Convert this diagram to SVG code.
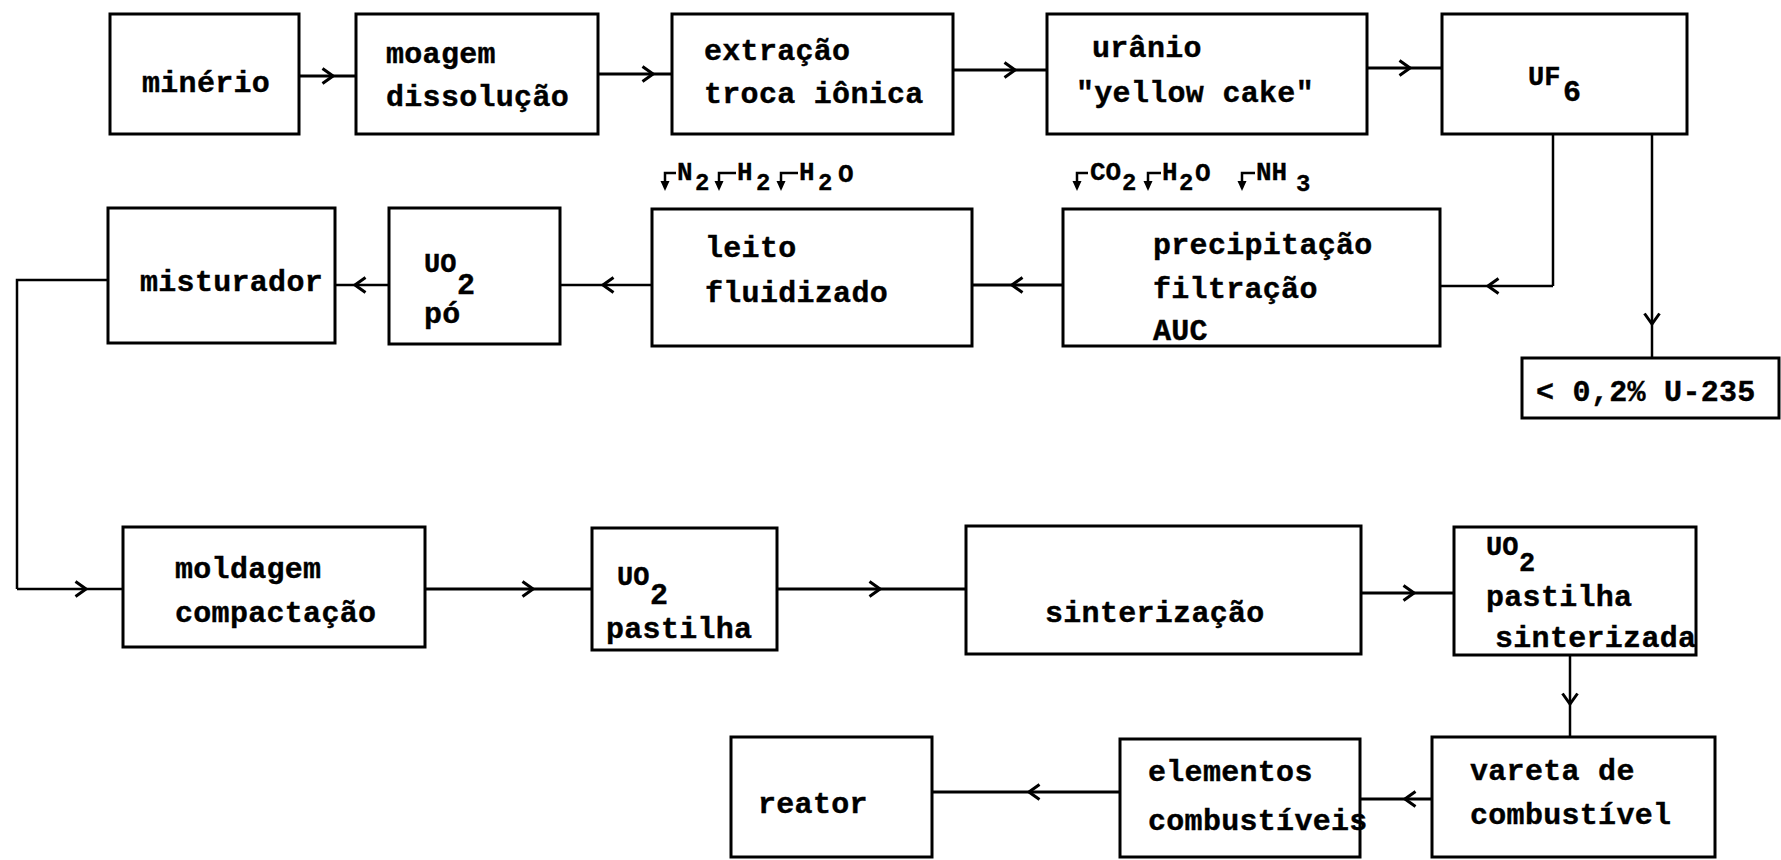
<svg xmlns="http://www.w3.org/2000/svg" width="1781" height="860" viewBox="0 0 1781 860">
<style>
.box{fill:none;stroke:#000;stroke-width:3}
.c{fill:none;stroke:#000;stroke-width:3.2}
.ct{fill:none;stroke:#000;stroke-width:2.5}
.m{marker-mid:url(#chev)}
.t{font-family:"Liberation Mono","DejaVu Sans Mono",monospace;font-weight:bold;font-size:30px;letter-spacing:0.3px;fill:#000;stroke:#000;stroke-width:0.4}
.s{font-family:"Liberation Mono","DejaVu Sans Mono",monospace;font-weight:bold;font-size:27px;fill:#000;stroke:#000;stroke-width:0.4}
.sb{font-family:"Liberation Mono","DejaVu Sans Mono",monospace;font-weight:bold;font-size:30px;fill:#000;stroke:#000;stroke-width:0.4}
.sc{font-family:"Liberation Mono","DejaVu Sans Mono",monospace;font-weight:bold;font-size:27px;fill:#000;stroke:#000;stroke-width:0.4}
.g{font-family:"Liberation Mono","DejaVu Sans Mono",monospace;font-weight:bold;font-size:24px;fill:#000;stroke:#000;stroke-width:0.3}
.gl{font-family:"Liberation Mono","DejaVu Sans Mono",monospace;font-weight:bold;font-size:26px;fill:#000;stroke:#000;stroke-width:0.3}
.ga{fill:none;stroke:#000;stroke-width:2.5}
.gh{fill:#000;stroke:none}
</style>
<defs>
<marker id="chev" viewBox="0 0 14 18" refX="12" refY="9" markerWidth="14" markerHeight="18" markerUnits="userSpaceOnUse" orient="auto">
<path d="M1.5,1.5 L12,9 L1.5,16.5" fill="none" stroke="#000" stroke-width="3"/>
</marker>
</defs>
<rect width="1781" height="860" fill="#fff"/>

<g id="connectors">
<path class="c m" d="M299 76 L333 76 L356 76"/>
<path class="c m" d="M598 74 L653 74 L672 74"/>
<path class="c m" d="M953 70 L1015 70 L1047 70"/>
<path class="c m" d="M1367 68 L1410 68 L1442 68"/>
<path class="ct" d="M1553 134 V286"/>
<path class="ct m" d="M1553 286 L1488 286 L1440 286"/>
<path class="ct m" d="M1652 134 L1652 324 L1652 358"/>
<path class="c m" d="M1063 285 L1012 285 L972 285"/>
<path class="ct m" d="M652 285 L603 285 L560 285"/>
<path class="ct m" d="M389 285 L355 285 L335 285"/>
<path class="ct" d="M108 280 H17 V589"/>
<path class="ct m" d="M17 589 L86 589 L123 589"/>
<path class="c m" d="M425 589 L533 589 L592 589"/>
<path class="c m" d="M777 589 L880 589 L966 589"/>
<path class="c m" d="M1361 593 L1414 593 L1454 593"/>
<path class="ct m" d="M1570 655 L1570 704 L1570 737"/>
<path class="c m" d="M1432 799 L1405 799 L1360 799"/>
<path class="c m" d="M1120 792 L1029 792 L932 792"/>
</g>

<g id="minerio"><rect class="box" x="110" y="14" width="189" height="120"/><text class="t" x="142" y="92">minério</text></g>
<g id="moagem"><rect class="box" x="356" y="14" width="242" height="120"/><text class="t" x="386" y="63">moagem</text><text class="t" x="386" y="106">dissolução</text></g>
<g id="extracao"><rect class="box" x="672" y="14" width="281" height="120"/><text class="t" x="704" y="60">extração</text><text class="t" x="704" y="103">troca iônica</text></g>
<g id="uranio"><rect class="box" x="1047" y="14" width="320" height="120"/><text class="t" x="1092" y="57">urânio</text><text class="t" x="1076" y="102">"yellow cake"</text></g>
<g id="uf6"><rect class="box" x="1442" y="14" width="245" height="120"/><text class="s" x="1528" y="85">UF</text><text class="sb" x="1563" y="101">6</text></g>

<g id="precipitacao"><rect class="box" x="1063" y="209" width="377" height="137"/><text class="t" x="1153" y="254">precipitação</text><text class="t" x="1153" y="298">filtração</text><text class="t" x="1153" y="340">AUC</text></g>
<g id="gases-precipitacao">
<path class="ga" d="M1088 173 H1077 V184"/><path class="gh" d="M1072.5 181 L1081.5 181 L1077 191 Z"/>
<text class="gl" x="1090" y="180">CO</text><text class="g" x="1122" y="190">2</text>
<path class="ga" d="M1161 173 H1148 V184"/><path class="gh" d="M1143.5 181 L1152.5 181 L1148 191 Z"/>
<text class="gl" x="1162" y="180">H</text><text class="g" x="1179" y="190">2</text><text class="gl" x="1195" y="181">O</text>
<path class="ga" d="M1255 173 H1242 V184"/><path class="gh" d="M1237.5 181 L1246.5 181 L1242 191 Z"/>
<text class="gl" x="1256" y="180">NH</text><text class="g" x="1296" y="191">3</text>
</g>
<g id="leito"><rect class="box" x="652" y="209" width="320" height="137"/><text class="t" x="705" y="257">leito</text><text class="t" x="705" y="302">fluidizado</text></g>
<g id="gases-leito">
<path class="ga" d="M676 173 H665 V184"/><path class="gh" d="M660.5 181 L669.5 181 L665 191 Z"/>
<text class="gl" x="677" y="180">N</text><text class="g" x="695" y="190">2</text>
<path class="ga" d="M736 173 H719 V184"/><path class="gh" d="M714.5 181 L723.5 181 L719 191 Z"/>
<text class="gl" x="737" y="180">H</text><text class="g" x="756" y="190">2</text>
<path class="ga" d="M798 173 H781 V184"/><path class="gh" d="M776.5 181 L785.5 181 L781 191 Z"/>
<text class="gl" x="799" y="180">H</text><text class="g" x="818" y="190">2</text><text class="gl" x="838" y="182">O</text>
</g>
<g id="uo2-po"><rect class="box" x="389" y="208" width="171" height="136"/><text class="s" x="424" y="272">UO</text><text class="sb" x="457" y="294">2</text><text class="t" x="424" y="323">pó</text></g>
<g id="misturador"><rect class="box" x="108" y="208" width="227" height="135"/><text class="t" x="140" y="291">misturador</text></g>
<g id="u235"><rect class="box" x="1522" y="358" width="257" height="60"/><text class="t" x="1536" y="401">&lt; 0,2% U-235</text></g>

<g id="moldagem"><rect class="box" x="123" y="527" width="302" height="120"/><text class="t" x="175" y="578">moldagem</text><text class="t" x="175" y="622">compactação</text></g>
<g id="uo2-pastilha"><rect class="box" x="592" y="528" width="185" height="122"/><text class="s" x="617" y="585">UO</text><text class="sb" x="650" y="604">2</text><text class="t" x="606" y="638">pastilha</text></g>
<g id="sinterizacao"><rect class="box" x="966" y="526" width="395" height="128"/><text class="t" x="1045" y="622">sinterização</text></g>
<g id="uo2-sinterizada"><rect class="box" x="1454" y="527" width="242" height="128"/><text class="s" x="1486" y="555">UO</text><text class="sc" x="1519" y="571">2</text><text class="t" x="1486" y="606">pastilha</text><text class="t" x="1495" y="647">sinterizada</text></g>

<g id="vareta"><rect class="box" x="1432" y="737" width="283" height="120"/><text class="t" x="1470" y="780">vareta de</text><text class="t" x="1470" y="824">combustível</text></g>
<g id="elementos"><rect class="box" x="1120" y="739" width="240" height="118"/><text class="t" x="1148" y="781">elementos</text><text class="t" x="1148" y="830">combustíveis</text></g>
<g id="reator"><rect class="box" x="731" y="737" width="201" height="120"/><text class="t" x="758" y="813">reator</text></g>
</svg>
